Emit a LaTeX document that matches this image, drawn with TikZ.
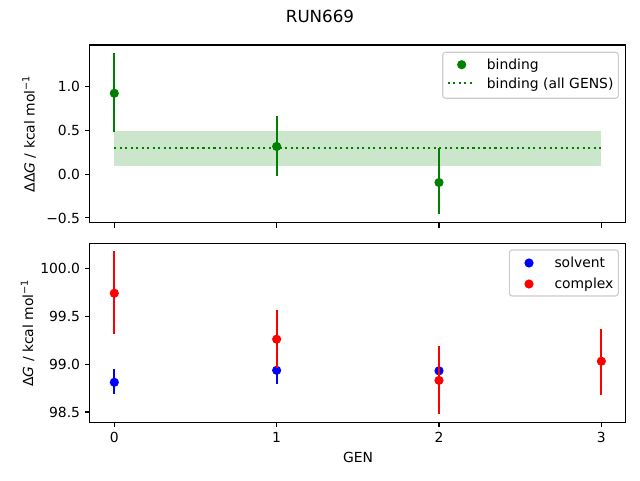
\documentclass[tikz,border=0pt]{standalone}
\usepackage{fontspec}
\setmainfont{DejaVu Sans}
\usepackage{tikz}
\usepackage{xcolor}
\usetikzlibrary{positioning}

\definecolor{mplgreen}{RGB}{0,128,0}
\definecolor{mplblue}{RGB}{0,0,255}
\definecolor{mplred}{RGB}{255,0,0}
\definecolor{bandgreen}{RGB}{204,230,204}
\definecolor{legedge}{RGB}{204,204,204}

\begin{document}
\begin{tikzpicture}[
    x=1pt, y=1pt,
    axframe/.style={draw=black, line width=1.1pt},
    ticklab/.style={font=\fontsize{13.9}{16}\selectfont, inner sep=0pt},
    errbar/.style={line width=2.08pt},
    dotline/.style={line width=2.08pt, dash pattern=on 2.08pt off 3.43pt},
    legbox/.style={draw=legedge, fill=white, line width=1.1pt, rounded corners=2.8pt}
]
  \useasboundingbox (0,0) rectangle (640,480);

  % Title
  \node[font=\fontsize{16.7}{20}\selectfont] (title) at (320,463.8) {RUN669};

  % Top panel (binding)
  \begin{scope}[x=162.35pt, y=87.5pt, shift={(114.3pt,305.8pt)}]
    \fill[bandgreen] (0,0.095) rectangle (3,0.49);
    \draw[mplgreen, dotline] (0,0.30) -- (3,0.30);
    \draw[errbar, mplgreen] (0,0.485) -- (0,1.38);
    \draw[errbar, mplgreen] (1,-0.02) -- (1,0.664);
    \draw[errbar, mplgreen] (2,-0.46) -- (2,0.294);
    \fill[mplgreen] (0,0.925) circle[radius=4.6pt];
    \fill[mplgreen] (1,0.317) circle[radius=4.6pt];
    \fill[mplgreen] (2,-0.095) circle[radius=4.6pt];
    \draw[axframe] (-0.15,-0.554) rectangle (3.15,1.477);
    \foreach \x in {0,...,3}
      \draw[axframe] (\x,-0.554) -- ++(0,-4.86pt);
    \foreach \v/\t [count=\i] in {-0.5/{−0.5}, 0.0/0.0, 0.5/0.5, 1.0/1.0} {
      \draw[axframe] (-0.15,\v) -- ++(-4.86pt,0);
      \node[ticklab, anchor=east, xshift=-9.7pt] (ytop\i) at (-0.15,\v) {\t};
    }
  \end{scope}

  % Bottom panel (solvent / complex)
  \begin{scope}[x=162.35pt, y=95.8pt, shift={(114.3pt,-9368.3pt)}]
    \draw[errbar, mplblue] (0,98.69) -- (0,98.95);
    \draw[errbar, mplblue] (1,98.79) -- (1,99.08);
    \draw[errbar, mplblue] (2,98.86) -- (2,99.00);
    \fill[mplblue] (0,98.81) circle[radius=4.6pt];
    \fill[mplblue] (1,98.935) circle[radius=4.6pt];
    \fill[mplblue] (2,98.93) circle[radius=4.6pt];
    \draw[errbar, mplred] (0,99.31) -- (0,100.18);
    \draw[errbar, mplred] (1,98.955) -- (1,99.56);
    \draw[errbar, mplred] (2,98.48) -- (2,99.19);
    \draw[errbar, mplred] (3,98.68) -- (3,99.37);
    \fill[mplred] (0,99.74) circle[radius=4.6pt];
    \fill[mplred] (1,99.26) circle[radius=4.6pt];
    \fill[mplred] (2,98.83) circle[radius=4.6pt];
    \fill[mplred] (3,99.03) circle[radius=4.6pt];
    \draw[axframe] (-0.15,98.392) rectangle (3.15,100.261);
    \foreach \x in {0,...,3} {
      \draw[axframe] (\x,98.392) -- ++(0,-4.86pt);
      \node[ticklab, anchor=north, yshift=-9.7pt] (xbot\x) at (\x,98.392) {\x};
    }
    \foreach \v/\t [count=\i] in {98.5/98.5, 99.0/99.0, 99.5/99.5, 100.0/100.0} {
      \draw[axframe] (-0.15,\v) -- ++(-4.86pt,0);
      \node[ticklab, anchor=east, xshift=-9.7pt] (ybot\i) at (-0.15,\v) {\t};
    }
  \end{scope}

  % Axis labels
  \node[ticklab, rotate=90] (ylabtop) at (29,346) {ΔΔ\textit{G} / kcal mol\textsuperscript{−1}};
  \node[ticklab, rotate=90] (ylabbot) at (27.5,147) {Δ\textit{G} / kcal mol\textsuperscript{−1}};
  \node[ticklab] (xlab) at (358,22.3) {GEN};

  % Legend, top panel
  \draw[legbox] (442.7,381.7) rectangle (618.3,427.7);
  \fill[mplgreen] (461.7,415.3) circle[radius=4.6pt];
  \coordinate (lgA) at (447.7,396.7);
  \coordinate (lgB) at (475,396.7);
  \draw[mplgreen, dotline] (lgA) -- (lgB);
  \node[ticklab, anchor=base west] (legbind) at (486.7,410.7) {binding};
  \node[ticklab, anchor=base west] (legall) at (486.7,391.7) {binding (all GENS)};

  % Legend, bottom panel
  \draw[legbox] (509.3,184) rectangle (618.3,230);
  \fill[mplblue] (529,217) circle[radius=4.6pt];
  \fill[mplred] (529,196) circle[radius=4.6pt];
  \node[ticklab, anchor=base west] (legsolv) at (554.3,212.7) {solvent};
  \node[ticklab, anchor=base west] (legcplx) at (554.3,191.7) {complex};

\end{tikzpicture}
\end{document}
